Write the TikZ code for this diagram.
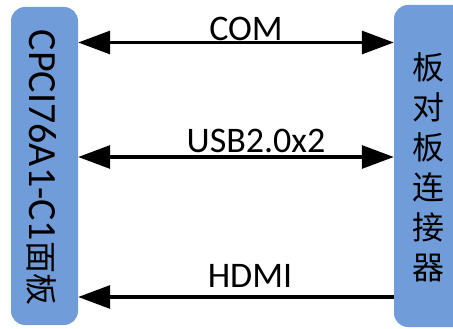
\documentclass[tikz,border=0pt]{standalone}
\usepackage{fontspec}
\setmainfont{Carlito}
\newfontfamily\cjk{Noto Sans CJK SC}
\usetikzlibrary{arrows.meta}
\definecolor{boxblue}{RGB}{112,157,218}
\tikzset{
  panel/.style={fill=boxblue, draw=none, rounded corners=14pt, inner sep=0pt},
  link/.style={line width=3.2pt, draw=black, {Triangle[length=32pt,width=23pt]}-{Triangle[length=32pt,width=23pt]}},
  linkleft/.style={line width=3.2pt, draw=black, {Triangle[length=32pt,width=23pt]}-},
  lbl/.style={font=\fontsize{36}{40}\selectfont, inner sep=0pt, anchor=base}
}
\begin{document}
\begin{tikzpicture}[x=1pt,y=-1pt]
\useasboundingbox (0,0) rectangle (453,329);
\clip (0,0) rectangle (453,329);
\node[panel, minimum width=67pt, minimum height=318pt] (L) at (44.5,166) {};
\node[panel, minimum width=76pt, minimum height=322pt] (R) at (432,166) {};
\node[rotate=-90, anchor=base, inner sep=0pt] (Lt) at (29,167.5)
  {\fontsize{40}{44}\selectfont CPCI76A1-C1{\cjk\fontsize{32}{36}\selectfont 面板}};
\node[align=center, inner sep=0pt, font=\cjk\fontsize{32}{40}\selectfont] (Rt) at (428,167)
  {板\\对\\板\\连\\接\\器};
\coordinate (y1) at (0,42.5);
\coordinate (y2) at (0,157);
\coordinate (y3) at (0,297);
\draw[link] (L.east |- y1) -- (R.west |- y1);
\draw[link] (L.east |- y2) -- (R.west |- y2);
\draw[linkleft] (L.east |- y3) -- (R.west |- y3);
\node[lbl] (com) at (246,41) {COM};
\node[lbl] (usb) at (256,153) {USB2.0x2};
\node[lbl] (hdmi) at (250,287) {HDMI};
\end{tikzpicture}
\end{document}
